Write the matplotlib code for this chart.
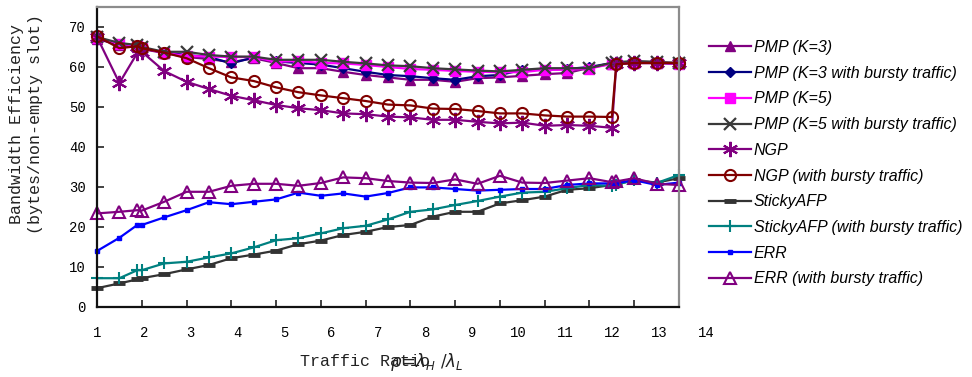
import matplotlib
matplotlib.use("Agg")
import matplotlib.pyplot as plt

# Traffic ratio values (rho = lambda_H / lambda_L)
ratio = [1, 1.5, 1.9, 2, 2.5, 3, 3.5, 4, 4.5, 5, 5.5, 6, 6.5, 7, 7.5,
         8, 8.5, 9, 9.5, 10, 10.5, 11, 11.5, 12, 12.5, 12.6, 13, 13.5, 14]

pmp_k3 = [67.0, 65.5, 65.0, 64.5, 63.5, 62.5, 62.0, 61.2, 62.2, 61.0, 59.7, 59.7, 58.8, 58.0, 57.4,
          56.8, 56.8, 56.3, 57.2, 57.4, 57.8, 58.2, 58.5, 59.8, 60.8, 60.9, 61.0, 61.0, 61.0]
pmp_k3_bursty = [67.0, 65.8, 65.2, 64.8, 63.6, 63.0, 62.5, 60.9, 62.4, 61.4, 61.0, 60.6, 59.7, 58.8, 58.0,
                 57.7, 57.2, 56.8, 57.7, 58.0, 59.3, 59.3, 59.5, 60.0, 61.0, 61.0, 61.2, 61.0, 60.8]
pmp_k5 = [67.3, 65.8, 65.3, 64.8, 63.5, 62.8, 62.6, 62.5, 62.5, 61.3, 61.5, 61.0, 60.9, 60.5, 60.0,
          59.5, 59.3, 59.0, 58.8, 58.7, 58.7, 59.3, 59.3, 59.6, 60.8, 61.0, 61.0, 61.0, 60.8]
pmp_k5_bursty = [67.5, 66.0, 65.5, 65.0, 63.8, 63.8, 63.0, 62.6, 62.6, 61.8, 61.8, 61.8, 61.3, 60.9, 60.4,
                 60.2, 59.7, 59.4, 59.1, 58.9, 59.3, 59.7, 59.7, 59.7, 61.1, 61.2, 61.5, 61.3, 61.0]
ngp = [67.5, 56.0, 63.5, 63.8, 59.0, 56.3, 54.5, 52.8, 51.7, 50.5, 49.7, 49.2, 48.4, 48.2, 47.6,
       47.4, 46.8, 46.8, 46.3, 45.9, 46.1, 45.3, 45.5, 45.3, 44.8, 60.7, 61.0, 61.0, 61.0]
ngp_bursty = [67.7, 64.7, 65.2, 64.7, 63.6, 62.2, 59.7, 57.4, 56.5, 54.9, 53.7, 52.9, 52.2, 51.5, 50.6,
              50.4, 49.6, 49.5, 49.0, 48.4, 48.4, 47.9, 47.6, 47.6, 47.5, 60.7, 61.0, 61.0, 61.0]
sticky = [4.7, 5.9, 6.9, 7.2, 8.2, 9.4, 10.5, 12.2, 13.1, 14.1, 15.7, 16.6, 18.0, 18.8, 20.0,
          20.5, 22.6, 23.8, 23.8, 25.9, 26.7, 27.6, 29.3, 29.7, 30.5, 30.7, 31.7, 31.1, 32.2]
sticky_bursty = [7.2, 7.2, 9.2, 9.2, 10.9, 11.3, 12.4, 13.4, 14.9, 16.7, 17.2, 18.4, 19.7, 20.3, 21.9,
                 23.8, 24.4, 25.5, 26.5, 27.6, 28.6, 28.8, 29.7, 30.5, 30.3, 30.6, 31.7, 31.0, 33.0]
err = [14.0, 17.3, 20.5, 20.5, 22.4, 24.2, 26.2, 25.7, 26.3, 26.9, 28.6, 27.8, 28.4, 27.6, 28.5,
       29.9, 29.9, 29.5, 29.1, 29.3, 29.5, 29.5, 30.5, 30.9, 30.9, 31.0, 31.7, 30.5, 31.1]
err_bursty = [23.4, 23.8, 24.2, 24.1, 26.3, 28.8, 28.8, 30.3, 30.8, 30.8, 30.3, 31.0, 32.4, 32.2, 31.5,
              31.1, 31.0, 31.9, 30.8, 32.8, 31.1, 31.0, 31.6, 32.2, 31.2, 31.4, 32.2, 30.8, 30.5]

x_tick_labels = [str(v) for v in range(1, 15)]
y_ticks = list(range(0, 71, 10))

W, H = 972, 377
fig = plt.figure(figsize=(W / 100, H / 100), dpi=100)

ax_l, ax_r, ax_t, ax_b = 97, 679, 7, 307
ax = fig.add_axes([ax_l / W, 1 - ax_b / H, (ax_r - ax_l) / W, (ax_b - ax_t) / H])

asterisk = (6, 2, 0)
series = [
    ("PMP (K=3)", pmp_k3, dict(color="#800080", marker="^", ms=7, mfc="#800080", mec="#800080")),
    ("PMP (K=3 with bursty traffic)", pmp_k3_bursty, dict(color="#000080", marker="D", ms=5, mfc="#000080", mec="#000080")),
    ("PMP (K=5)", pmp_k5, dict(color="#FF00FF", marker="s", ms=7, mfc="#FF00FF", mec="#FF00FF")),
    ("PMP (K=5 with bursty traffic)", pmp_k5_bursty, dict(color="#3a3a3a", marker="x", ms=9, mew=1.6)),
    ("NGP", ngp, dict(color="#800080", marker=asterisk, ms=11, mew=1.5)),
    ("NGP (with bursty traffic)", ngp_bursty, dict(color="#800000", marker="o", ms=8, mfc="none", mew=1.5)),
    ("StickyAFP", sticky, dict(color="#333333", marker="_", ms=8, mew=3.5)),
    ("StickyAFP (with bursty traffic)", sticky_bursty, dict(color="#008080", marker="+", ms=9, mew=1.5)),
    ("ERR", err, dict(color="#0000FF", marker="s", ms=3.5, mfc="#0000FF", mec="#0000FF")),
    ("ERR (with bursty traffic)", err_bursty, dict(color="#800080", marker="^", ms=9, mfc="none", mew=1.5)),
]

handles = []
for label, vals, style in series:
    ln, = ax.plot(ratio, vals, lw=1.6, clip_on=False, label=label, **style)
    handles.append(ln)

ax.set_xlim(1, 14)
ax.set_ylim(0, 75)
ax.set_xticks(range(1, 15))
ax.set_xticklabels([])
ax.set_yticks(y_ticks)
ax.set_yticklabels([str(v) for v in y_ticks], fontfamily="Liberation Mono", fontsize=10)
ax.tick_params(axis="both", direction="in", length=5, width=1.2, color="#222222")
ax.tick_params(axis="y", pad=8)

for side in ("left", "bottom"):
    ax.spines[side].set_color("#111111")
    ax.spines[side].set_linewidth(1.6)
for side in ("top", "right"):
    ax.spines[side].set_color("#8c8c8c")
    ax.spines[side].set_linewidth(1.6)

# Category labels along the bottom, spaced independently of the tick marks
lab_l, lab_r = 97, 706
lab_ax = fig.add_axes([lab_l / W, 1 - ax_b / H, (lab_r - lab_l) / W, 0.001])
lab_ax.set_xlim(1, 14)
lab_ax.set_xticks(range(1, 15))
lab_ax.set_xticklabels(x_tick_labels, fontfamily="Liberation Mono", fontsize=10)
lab_ax.tick_params(axis="x", length=0, pad=13.5)
lab_ax.set_yticks([])
lab_ax.patch.set_visible(False)
for s in lab_ax.spines.values():
    s.set_visible(False)

# Axis titles
fig.text(26 / W, 1 - 124 / H, "Bandwidth Efficiency\n(bytes/non-empty slot)",
         rotation=90, ha="center", va="center", fontfamily="Liberation Mono",
         fontsize=12, linespacing=1.3, color="#222222")
fig.text(300 / W, 1 - 362 / H, "Traffic Ratio", ha="left", va="center",
         fontfamily="Liberation Mono", fontsize=12, color="#222222")
fig.text(390 / W, 1 - 362 / H, r"$\rho\!=\!\lambda_H\ /\lambda_L$", ha="left", va="center",
         fontsize=12, color="#222222")

leg = fig.legend(handles=handles, loc="upper left", bbox_to_anchor=(709 / W, 1 - 40 / H),
                 frameon=False, prop={"family": "Liberation Sans", "style": "italic", "size": 11.5},
                 handlelength=2.6, handletextpad=0.2, labelspacing=0.67, borderaxespad=0,
                 borderpad=0, numpoints=1)

fig.savefig("out.png", dpi=100)
